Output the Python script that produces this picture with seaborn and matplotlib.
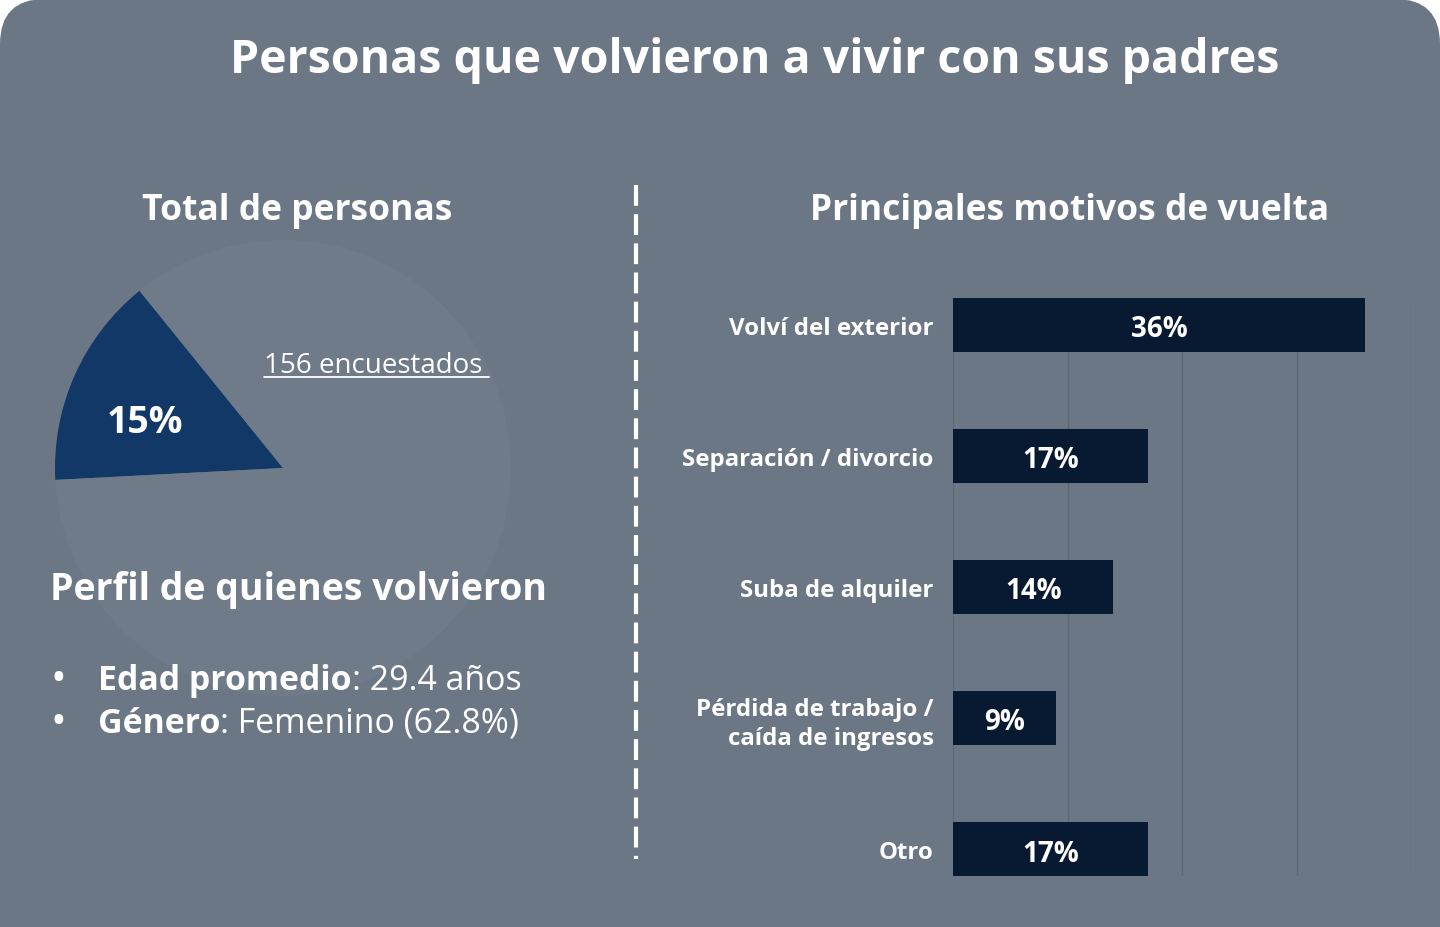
import matplotlib
matplotlib.use("Agg")
import matplotlib.pyplot as plt
import seaborn as sns
import pandas as pd
from matplotlib.patches import FancyBboxPatch
from matplotlib.lines import Line2D

# ---- data ----
title = "Personas que volvieron a vivir con sus padres"
pie_values = [15, 85]
pie_label = "15%"
respondents = "156 encuestados "
motivos = ["Volví del exterior", "Separación / divorcio", "Suba de alquiler",
           "Pérdida de trabajo /\ncaída de ingresos", "Otro"]
motivos_pct = [36, 17, 14, 9, 17]
xticks = [0, 10, 20, 30, 40]

BG = "#6b7785"
FAINT = "#6f7b89"
PIE_C = "#113866"
BAR_C = "#081a31"

sns.set_theme(style="white")
plt.rcParams['font.family'] = ['Open Sans', 'DejaVu Sans']

W, H = 1440, 928
fig = plt.figure(figsize=(W / 100, H / 100), dpi=100, facecolor="white")

# rounded background panel (top corners rounded, bottom extends past edge)
r = 45
bg = FancyBboxPatch((0, -2 * r), W, H + 2 * r,
                    boxstyle=f"round,pad=0,rounding_size={r}",
                    transform=None, facecolor=BG, edgecolor="none", zorder=-10)
fig.patches.append(bg)

def fx(px):
    return px / W

def fy(py):
    return 1 - py / H

# title
fig.text(fx(755), fy(61), title, ha="center", va="center", color="white",
         fontsize=33.5, fontweight="bold")

# section headings
fig.text(fx(297), fy(211), "Total de personas", ha="center", va="center",
         color="white", fontsize=25.5, fontweight="bold")
fig.text(fx(1070), fy(211), "Principales motivos de vuelta", ha="center",
         va="center", color="white", fontsize=25.5, fontweight="bold")

# dashed divider
fig.add_artist(Line2D([fx(636), fx(636)], [fy(186), fy(860)], color="white",
                      lw=3, linestyle=(0, (5, 2)), transform=fig.transFigure))

# ---- pie ----
cx, cy, rad = 283, 469, 228
pax = fig.add_axes([fx(cx - rad), fy(cy + rad), 2 * rad / W, 2 * rad / H])
pax.pie(pie_values, colors=[PIE_C, FAINT], startangle=129, counterclock=True,
        radius=1, wedgeprops=dict(linewidth=0))
pax.set_xlim(-1, 1)
pax.set_ylim(-1, 1)
pax.set_aspect("auto")
pax.axis("off")
pax.set_zorder(1)

fig.text(fx(145), fy(423), pie_label, ha="center", va="center", color="white",
         fontsize=27, fontweight="bold", zorder=5)
fig.text(fx(264), fy(366), respondents, ha="left", va="center",
         color="white", fontsize=20, zorder=5)
fig.add_artist(Line2D([fx(264), fx(489)], [fy(378), fy(378)], color="white",
                      lw=1.3, transform=fig.transFigure, zorder=5))

# profile
fig.text(fx(50), fy(590), "Perfil de quienes volvieron", ha="left",
         va="center", color="white", fontsize=27, fontweight="bold", zorder=5)
bullets = [("Edad promedio", ": 29.4 años", 681),
           ("Género", ": Femenino (62.8%)", 724)]
fig.canvas.draw()
renderer = fig.canvas.get_renderer()
for bold, rest, yy in bullets:
    fig.text(fx(58), fy(yy - 1), "•", ha="center", va="center", color="white",
             fontsize=30, zorder=5)
    tb = fig.text(fx(98), fy(yy), bold, ha="left", va="center", color="white",
                  fontsize=24.4, fontweight="bold", zorder=5)
    bb = tb.get_window_extent(renderer=renderer)
    fig.text(bb.x1 / W, fy(yy), rest, ha="left", va="center", color="white",
             fontsize=24.4, zorder=5)

# ---- bars ----
df = pd.DataFrame({"motivo": motivos, "pct": motivos_pct})
bax = fig.add_axes([fx(953), fy(877), (1411 - 953) / W, (877 - 299) / H])
bax.set_facecolor("none")
sns.barplot(data=df, y="motivo", x="pct", orient="h", color=BAR_C,
            width=0.41, ax=bax, saturation=1, zorder=3, linewidth=0)
bax.set_xlim(0, 40)
bax.set_ylim(4.205, -0.205)
bax.set_xticks(xticks)
bax.grid(axis="x", color="#5d6875", lw=1, zorder=0)
bax.set_axisbelow(True)
bax.tick_params(axis="x", bottom=False, labelbottom=False)
bax.tick_params(axis="y", left=False, pad=8, labelsize=17.3, labelcolor="white")
for lab in bax.get_yticklabels():
    lab.set_fontweight("bold")
    lab.set_multialignment("right")
    lab.set_linespacing(1.3)
bax.set_xlabel("")
bax.set_ylabel("")
for s in bax.spines.values():
    s.set_visible(False)
for i, v in enumerate(motivos_pct):
    bax.text(v / 2, i + 0.03, f"{v}%", ha="center", va="center", color="white",
             fontsize=20, fontweight="bold", zorder=4)

fig.savefig("out.png", dpi=100, facecolor="white")
